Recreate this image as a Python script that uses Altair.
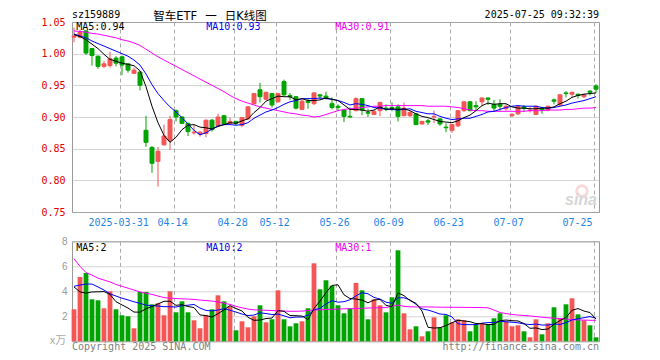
import altair as alt
import pandas as pd

# ---------------- data ----------------
opens = [1.026,1.026,1.036,1.008,0.996,0.980,0.981,0.993,0.995,0.984,
         0.969,0.971,0.879,0.852,0.830,0.856,0.863,0.910,0.900,0.890,
         0.875,0.873,0.874,0.895,0.886,0.902,0.890,0.893,0.887,0.897,
         0.921,0.943,0.928,0.937,0.924,0.956,0.934,0.932,0.912,0.925,
         0.921,0.935,0.933,0.921,0.917,0.911,0.901,0.910,0.929,0.907,
         0.904,0.910,0.914,0.915,0.916,0.902,0.902,0.905,0.889,0.894,
         0.900,0.897,0.884,0.879,0.886,0.910,0.924,0.918,0.924,0.930,
         0.920,0.920,0.913,0.902,0.905,0.916,0.910,0.904,0.913,0.911,
         0.927,0.919,0.938,0.936,0.936,0.932,0.941,0.949]
highs = [1.041,1.038,1.037,1.009,0.997,0.988,1.003,0.996,0.997,0.985,
         0.978,0.972,0.902,0.854,0.853,0.888,0.902,0.912,0.901,0.891,
         0.887,0.878,0.896,0.897,0.905,0.903,0.899,0.894,0.900,0.917,
         0.938,0.954,0.940,0.938,0.938,0.959,0.938,0.933,0.928,0.930,
         0.939,0.936,0.940,0.931,0.920,0.912,0.915,0.931,0.930,0.913,
         0.910,0.924,0.920,0.923,0.920,0.923,0.910,0.906,0.894,0.897,
         0.910,0.898,0.890,0.889,0.911,0.925,0.925,0.925,0.931,0.931,
         0.927,0.928,0.920,0.906,0.918,0.919,0.916,0.918,0.915,0.918,
         0.929,0.936,0.941,0.940,0.937,0.937,0.942,0.952]
lows = [1.018,1.024,0.998,0.981,0.976,0.977,0.978,0.980,0.966,0.970,
        0.968,0.942,0.853,0.812,0.790,0.855,0.848,0.893,0.889,0.870,
        0.872,0.869,0.868,0.877,0.885,0.887,0.889,0.887,0.884,0.896,
        0.920,0.923,0.927,0.915,0.923,0.933,0.927,0.912,0.911,0.913,
        0.919,0.928,0.928,0.912,0.910,0.892,0.899,0.909,0.903,0.900,
        0.903,0.901,0.909,0.909,0.893,0.901,0.900,0.887,0.888,0.887,
        0.890,0.886,0.876,0.875,0.884,0.908,0.909,0.910,0.918,0.919,
        0.908,0.910,0.910,0.900,0.903,0.908,0.907,0.903,0.905,0.909,
        0.920,0.918,0.931,0.931,0.929,0.930,0.934,0.938]
closes = [1.028,1.034,1.001,0.997,0.980,0.984,0.992,0.985,0.982,0.974,
          0.974,0.950,0.860,0.827,0.846,0.870,0.896,0.900,0.890,0.877,
          0.876,0.876,0.895,0.880,0.900,0.889,0.893,0.890,0.899,0.916,
          0.937,0.932,0.939,0.919,0.937,0.935,0.932,0.914,0.925,0.923,
          0.938,0.933,0.930,0.915,0.915,0.901,0.900,0.929,0.911,0.906,
          0.909,0.923,0.913,0.913,0.901,0.914,0.907,0.888,0.893,0.892,
          0.901,0.889,0.883,0.888,0.910,0.924,0.910,0.916,0.930,0.928,
          0.914,0.917,0.917,0.904,0.917,0.914,0.911,0.917,0.911,0.917,
          0.925,0.935,0.937,0.939,0.934,0.935,0.939,0.944]
ma5 = [1.030,1.027,1.022,1.015,1.008,0.999,0.991,0.988,0.985,0.983,
       0.981,0.973,0.948,0.917,0.891,0.871,0.860,0.868,0.880,0.887,
       0.888,0.884,0.883,0.881,0.885,0.888,0.891,0.890,0.894,0.897,
       0.907,0.915,0.925,0.929,0.933,0.932,0.932,0.927,0.929,0.926,
       0.926,0.927,0.930,0.928,0.926,0.919,0.912,0.912,0.911,0.909,
       0.911,0.916,0.912,0.913,0.912,0.913,0.910,0.905,0.901,0.899,
       0.896,0.893,0.892,0.891,0.894,0.899,0.903,0.910,0.918,0.922,
       0.920,0.921,0.921,0.916,0.914,0.914,0.913,0.913,0.914,0.914,
       0.916,0.921,0.925,0.931,0.934,0.936,0.937,0.938]
ma10 = [1.031,1.028,1.025,1.020,1.016,1.012,1.008,1.004,1.000,0.996,
        0.990,0.982,0.968,0.951,0.937,0.926,0.916,0.908,0.899,0.889,
        0.879,0.872,0.875,0.881,0.886,0.888,0.888,0.887,0.888,0.891,
        0.898,0.903,0.908,0.911,0.915,0.920,0.924,0.926,0.929,0.929,
        0.929,0.930,0.929,0.928,0.926,0.923,0.919,0.921,0.920,0.918,
        0.915,0.914,0.912,0.912,0.911,0.912,0.913,0.909,0.907,0.905,
        0.905,0.901,0.898,0.896,0.897,0.898,0.898,0.901,0.904,0.908,
        0.909,0.912,0.915,0.917,0.918,0.917,0.917,0.917,0.915,0.914,
        0.915,0.917,0.919,0.922,0.924,0.926,0.929,0.932]
ma30 = [1.036,1.035,1.034,1.032,1.031,1.029,1.027,1.025,1.022,1.020,
        1.017,1.013,1.007,1.001,0.995,0.990,0.985,0.980,0.975,0.970,
        0.965,0.960,0.955,0.950,0.945,0.940,0.934,0.929,0.925,0.922,
        0.919,0.916,0.914,0.912,0.910,0.908,0.906,0.905,0.903,0.902,
        0.900,0.901,0.904,0.907,0.910,0.912,0.913,0.914,0.915,0.916,
        0.917,0.917,0.918,0.918,0.918,0.918,0.918,0.918,0.918,0.917,
        0.917,0.917,0.917,0.916,0.915,0.913,0.911,0.910,0.910,0.909,
        0.909,0.909,0.909,0.909,0.909,0.909,0.910,0.910,0.910,0.911,
        0.911,0.911,0.912,0.912,0.913,0.914,0.914,0.915]
volumes = [2.56,5.15,5.47,3.36,3.28,2.64,4.00,2.56,2.08,2.00,
           1.04,3.95,3.95,2.96,3.04,2.08,4.00,2.32,3.20,2.32,
           1.68,1.04,2.08,2.56,3.68,3.20,2.80,0.88,1.60,1.12,
           2.00,2.88,1.52,1.76,4.08,1.76,1.20,1.44,1.60,2.64,
           6.24,4.16,4.88,4.45,2.88,2.24,2.64,4.67,4.08,1.76,
           3.36,2.88,2.32,3.52,7.28,2.24,0.96,1.20,0.40,0.80,
           1.92,1.12,2.08,1.52,1.76,1.68,0.80,1.36,1.44,1.36,
           1.84,2.24,1.60,1.20,1.28,0.80,0.32,1.76,0.56,1.44,
           2.72,1.84,2.96,3.44,2.16,1.68,1.28,0.32]
vma5 = [4.35,3.95,3.85,3.95,3.96,3.98,3.75,3.17,2.91,2.66,
        2.34,2.33,2.60,2.78,2.99,3.20,3.21,2.88,2.93,2.78,
        2.70,2.11,2.06,1.94,2.21,2.51,2.86,2.62,2.43,1.92,
        1.68,1.70,1.82,1.86,2.45,2.40,2.06,2.05,2.02,1.73,
        2.62,3.22,3.90,4.47,4.52,3.72,3.42,3.38,3.30,3.08,
        3.30,3.35,2.88,2.77,3.87,3.65,3.26,3.04,2.42,1.12,
        1.06,1.09,1.26,1.49,1.68,1.63,1.57,1.42,1.41,1.33,
        1.36,1.65,1.70,1.65,1.63,1.42,1.04,1.07,0.94,0.98,
        1.36,1.66,1.90,2.48,2.62,2.42,2.30,1.78]
vma10 = [4.40,4.50,4.58,4.58,4.35,4.10,3.80,3.62,3.45,3.31,
         3.16,3.04,2.89,2.85,2.82,2.77,2.77,2.74,2.85,2.89,
         2.95,2.66,2.47,2.43,2.50,2.61,2.49,2.34,2.18,2.06,
         2.10,2.28,2.22,2.14,2.18,2.04,1.88,1.94,1.94,2.09,
         2.51,2.64,2.98,3.25,3.13,3.17,3.32,3.64,3.89,3.80,
         3.51,3.38,3.13,3.04,3.48,3.48,3.31,2.96,2.59,2.50,
         2.35,2.18,2.15,1.95,1.40,1.34,1.33,1.34,1.45,1.50,
         1.50,1.61,1.56,1.53,1.48,1.39,1.34,1.38,1.30,1.30,
         1.39,1.35,1.49,1.71,1.80,1.89,1.98,1.84]
vma30 = [6.60,6.00,5.50,5.30,5.05,4.90,4.75,4.55,4.40,4.25,
         4.10,3.95,3.85,3.75,3.62,3.50,3.45,3.42,3.40,3.38,
         3.35,3.30,3.26,3.22,3.15,3.05,2.95,2.80,2.68,2.58,
         2.52,2.50,2.48,2.46,2.44,2.42,2.40,2.40,2.42,2.46,
         2.50,2.52,2.55,2.56,2.58,2.60,2.61,2.62,2.64,2.66,
         2.68,2.69,2.70,2.80,2.90,2.80,2.76,2.75,2.75,2.75,
         2.74,2.73,2.73,2.72,2.72,2.71,2.71,2.70,2.70,2.68,
         2.50,2.30,2.22,2.15,2.10,2.06,2.03,1.98,1.93,1.88,
         1.85,1.82,1.78,1.74,1.71,1.70,1.68,1.68]
tick_pos = [8, 17, 27, 34, 44, 53, 63, 73, 87]
tick_labels = ["2025-03-31", "04-14", "04-28", "05-12", "05-26",
               "06-09", "06-23", "07-07", "07-25"]
price_ticks = [0.75, 0.80, 0.85, 0.90, 0.95, 1.00, 1.05]
vol_ticks = [2, 4, 6, 8]

# ---------------- styling ----------------
MONO = "DejaVu Sans Mono"
RED = "#f45656"
GREEN = "#00a400"
W, H1, H2 = 527, 190, 100

df = pd.DataFrame(dict(i=list(range(len(closes))), open=opens, high=highs,
                       low=lows, close=closes, vol=volumes, ma5=ma5,
                       ma10=ma10, ma30=ma30, vma5=vma5, vma10=vma10,
                       vma30=vma30))

x_scale = alt.Scale(domain=[-0.333, 87.5], nice=False, zero=False)
y_scale = alt.Scale(domain=[0.75, 1.05], nice=False, zero=False)
v_scale = alt.Scale(domain=[0, 8], nice=False)
col = alt.condition("datum.close >= datum.open", alt.value(RED), alt.value(GREEN))

label_expr = ("[" + ",".join(repr(t) for t in tick_labels) + "][indexof(["
              + ",".join(str(v) for v in tick_pos) + "], datum.value)]")

x_axis_main = alt.Axis(values=tick_pos, labelExpr=label_expr, tickOffset=-2.4,
                       labelOffset=-1.5, labelFlush=8, labelOverlap=False,
                       grid=True, gridDash=[4, 3], gridColor="#aaaaaa",
                       ticks=False, domain=False, labelColor="#1f86e6",
                       labelFont=MONO, labelFontSize=10, labelPadding=5,
                       title=None)
y_axis_main = alt.Axis(values=price_ticks, format=".2f", grid=True,
                       gridDash=[1, 1], gridColor="#aaaaaa", ticks=False,
                       domain=False, labelColor="#e00000", labelFont=MONO,
                       labelFontSize=10, labelPadding=7, title=None)
x_axis_vol = alt.Axis(values=tick_pos, tickOffset=-2.4, grid=True,
                      gridDash=[4, 3], gridColor="#aaaaaa", labels=False,
                      ticks=False, domain=False, title=None)
y_axis_vol = alt.Axis(values=vol_ticks, grid=True, gridDash=[1, 1],
                      gridColor="#aaaaaa", ticks=False, domain=False,
                      labelColor="#999999", labelFont="Liberation Sans",
                      labelFontSize=10, labelPadding=5, title=None)


def txt(s, x, y, color, font=MONO, size=10, align="left",
        baseline="alphabetic", **kw):
    return alt.Chart(alt.Data(values=[{}])).mark_text(
        text=s, color=color, font=font, fontSize=size, align=align,
        baseline=baseline, **kw).encode(x=alt.value(x), y=alt.value(y))


base = alt.Chart(df)


def XM(f):
    return alt.X(f, scale=x_scale, axis=x_axis_main, title=None)


def YM(f):
    return alt.Y(f, scale=y_scale, axis=y_axis_main, title=None)


wick = base.mark_rule(strokeWidth=1).encode(
    x=XM("i:Q"), y=YM("low:Q"), y2="high", color=col)
body = base.transform_calculate(
    x0="datum.i - 0.33", x1="datum.i + 0.33"
).mark_bar(strokeWidth=1).encode(
    x=XM("x0:Q"), x2="x1", y=YM("open:Q"), y2="close", color=col, stroke=col)
l30 = base.mark_line(color="#ff00ff", strokeWidth=1).encode(x=XM("i:Q"), y=YM("ma30:Q"))
l10 = base.mark_line(color="#0000ff", strokeWidth=1).encode(x=XM("i:Q"), y=YM("ma10:Q"))
l5 = base.mark_line(color="#000000", strokeWidth=1).encode(x=XM("i:Q"), y=YM("ma5:Q"))

anchor = alt.Chart(alt.Data(values=[{}])).mark_text(
    text=".", opacity=0, fontSize=2, align="left", baseline="top"
).encode(x=alt.value(-62.7), y=alt.value(-12.7))

logo = alt.Chart(alt.Data(values=[{}])).mark_point(
    shape="circle", size=110, filled=False, stroke="#f3caca", strokeWidth=3
).encode(x=alt.value(510), y=alt.value(169))

main = alt.layer(
    wick, body, l30, l10, l5,
    txt("MA5:0.94", 4.3, 8.3, "#000000"),
    txt("MA10:0.93", 134.3, 8.3, "#0000ee"),
    txt("MA30:0.91", 263.3, 8.3, "#ee00ee"),
    txt("sz159889", 0, -4, "#000000"),
    txt("智车ETF\u2002\u2009一\u2002\u2009日K线图", 138, -2.5, "#000000",
        font="DejaVu Sans, Noto Sans CJK SC", size=11.5, align="center"),
    txt("2025-07-25 09:32:39", W, -4, "#000000", align="right"),
    logo,
    txt("sina", 525, 183, "#d6d6d6", font="Liberation Sans", size=16,
        align="right", fontStyle="italic", fontWeight="bold"),
    anchor,
).properties(width=W, height=H1)


def XV(f):
    return alt.X(f, scale=x_scale, axis=x_axis_vol, title=None)


def YV(f):
    return alt.Y(f, scale=v_scale, axis=y_axis_vol, title=None)


vbar = base.transform_calculate(
    x0="datum.i - 0.4", x1="datum.i + 0.4"
).mark_bar().encode(x=XV("x0:Q"), x2="x1", y=YV("vol:Q"), y2=alt.datum(0), color=col)
v30 = base.mark_line(color="#ff00ff", strokeWidth=1).encode(x=XV("i:Q"), y=YV("vma30:Q"))
v10 = base.mark_line(color="#0000ff", strokeWidth=1).encode(x=XV("i:Q"), y=YV("vma10:Q"))
v5 = base.mark_line(color="#000000", strokeWidth=1).encode(x=XV("i:Q"), y=YV("vma5:Q"))

vol = alt.layer(
    vbar, v30, v10, v5,
    txt("MA5:2", 4.3, 9.3, "#000000"),
    txt("MA10:2", 134.3, 9.3, "#0000ee"),
    txt("MA30:1", 263.3, 9.3, "#ee00ee"),
    txt("Copyright 2025 SINA.COM", 0, 109, "#808080"),
    txt("http://finance.sina.com.cn", W, 109, "#808080", align="right"),
    txt("x万", -5.7, 102.5, "#aaaaaa", font="Noto Sans CJK SC", size=11,
        align="right"),
).properties(width=W, height=H2)

chart = alt.vconcat(main, vol, spacing=29.3, bounds="flush").properties(
    padding=0, background="white"
).configure_view(stroke="#999999", strokeWidth=1)

chart.save("out.html", embed_options={"renderer": "svg", "actions": False})
